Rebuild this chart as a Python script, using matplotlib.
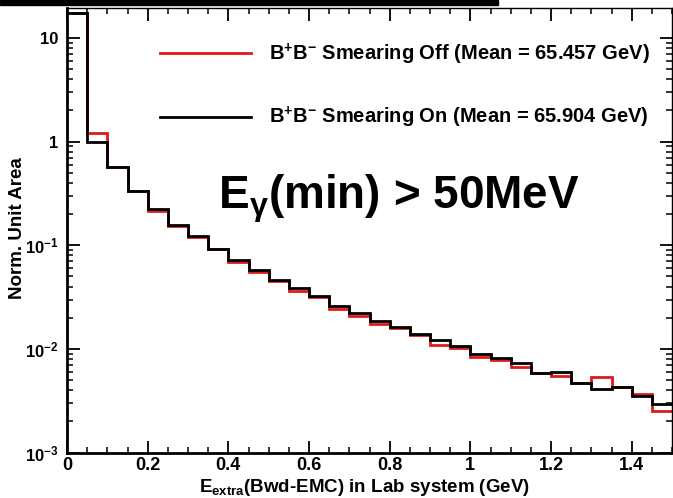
import numpy as np
import matplotlib
matplotlib.use("Agg")
import matplotlib.pyplot as plt
from matplotlib.patches import Rectangle
from matplotlib.ticker import LogLocator, MultipleLocator, NullFormatter

plt.rcParams["font.family"] = ["Liberation Sans", "DejaVu Sans"]
plt.rcParams["font.weight"] = "bold"
plt.rcParams["axes.labelweight"] = "bold"
plt.rcParams["mathtext.fontset"] = "custom"
plt.rcParams["mathtext.rm"] = "Liberation Sans:bold"
plt.rcParams["mathtext.sf"] = "Liberation Sans:bold"
plt.rcParams["mathtext.it"] = "Liberation Sans:bold"
plt.rcParams["mathtext.bf"] = "Liberation Sans:bold"

# 30 bins, 50 MeV wide
bin_edges = np.linspace(0.0, 1.5, 31)

smear_off = [17.5, 1.20, 0.573, 0.334, 0.216, 0.152, 0.121, 0.0919, 0.0694, 0.0552,
             0.0456, 0.0365, 0.0320, 0.0244, 0.0210, 0.0175, 0.0160, 0.0135, 0.0110, 0.0103,
             0.0084, 0.0079, 0.00674, 0.00581, 0.00547, 0.00473, 0.00536, 0.00430, 0.00365, 0.00252]
smear_on = [17.5, 1.00, 0.573, 0.334, 0.223, 0.157, 0.1216, 0.0919, 0.0714, 0.0580,
            0.0466, 0.0387, 0.0327, 0.0262, 0.0223, 0.0185, 0.0163, 0.0138, 0.01216, 0.01064,
            0.00885, 0.00822, 0.00726, 0.00581, 0.00598, 0.00473, 0.00408, 0.00430, 0.00352, 0.00292]

label_off = "B$^{+}$B$^{-}$ Smearing Off (Mean = 65.457 GeV)"
label_on = "B$^{+}$B$^{-}$ Smearing On (Mean = 65.904 GeV)"

x_ticks = [0, 0.2, 0.4, 0.6, 0.8, 1.0, 1.2, 1.4]
x_ticklabels = ["0", "0.2", "0.4", "0.6", "0.8", "1", "1.2", "1.4"]
y_ticks = [1e-3, 1e-2, 1e-1, 1, 10]
y_ticklabels = ["$10^{-3}$", "$10^{-2}$", "$10^{-1}$", "1", "10"]

fig = plt.figure(figsize=(6.73, 4.98), dpi=100)

# dark strip along the top edge
fig.patches.append(Rectangle((0, 1 - 5 / 498), 498 / 673, 5 / 498,
                             transform=fig.transFigure, color="black", zorder=0))

ax = fig.add_axes([67 / 673, 45.3 / 498, 605 / 673, 444.7 / 498])
ax.set_yscale("log")

ax.stairs(smear_off, bin_edges, baseline=None, color="#e01a1a", linewidth=2.0, label=label_off)
ax.stairs(smear_on, bin_edges, baseline=None, color="black", linewidth=2.0, label=label_on)

ax.set_xlim(0, 1.5)
ax.set_ylim(1e-3, 19.4)

ax.set_xticks(x_ticks, x_ticklabels)
ax.xaxis.set_minor_locator(MultipleLocator(0.05))
ax.set_yticks(y_ticks, y_ticklabels)
ax.yaxis.set_minor_locator(LogLocator(base=10, subs=range(2, 10)))
ax.yaxis.set_minor_formatter(NullFormatter())

ax.tick_params(which="both", direction="in", top=True, right=True)
ax.tick_params(which="major", length=9, width=1.3)
ax.tick_params(which="minor", length=4.5, width=1.1)
ax.tick_params(axis="x", pad=3, labelsize=13)
ax.tick_params(axis="y", pad=6, labelsize=12)

for side in ("left", "bottom"):
    ax.spines[side].set_linewidth(2.0)
for side in ("top", "right"):
    ax.spines[side].set_linewidth(1.0)

ax.set_xlabel("E$_{\\mathsf{extra}}$(Bwd-EMC) in Lab system (GeV)", fontsize=13.5, va="baseline")
ax.xaxis.set_label_coords(0.492, -0.088)
ax.set_ylabel("Norm. Unit Area", fontsize=13.5)
ax.yaxis.set_label_coords(-0.068, 0.504)

ax.legend(loc="center left", bbox_to_anchor=(0.154, 0.825), frameon=False,
          fontsize=14.5, handlelength=4.5, handletextpad=0.9, labelspacing=1.9,
          borderpad=0, borderaxespad=0)

ax.text(0.25, 0.55, "E$_{\\mathsf{\\gamma}}$(min) > 50MeV", transform=ax.transAxes,
        fontsize=33, fontweight="bold", va="baseline", ha="left")

fig.savefig("out.png", dpi=100)
